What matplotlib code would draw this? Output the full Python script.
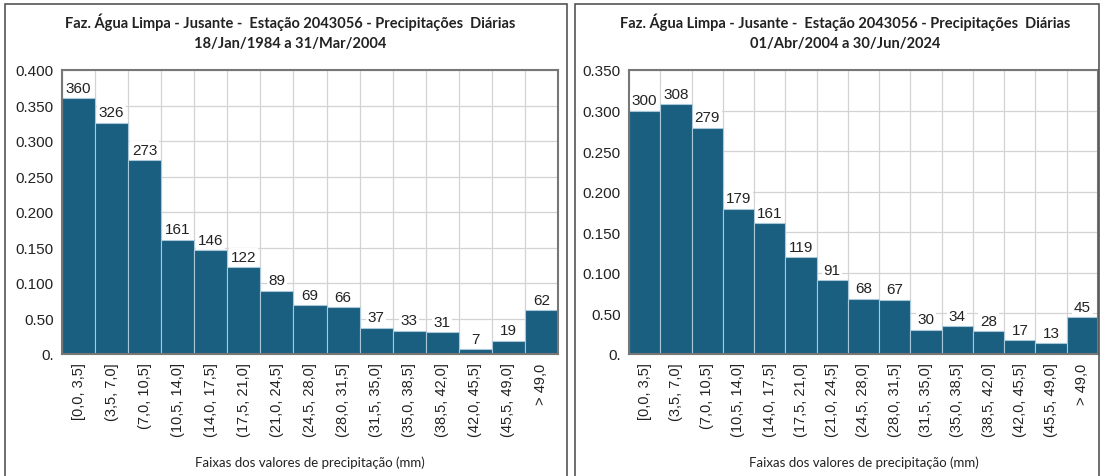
import numpy as np
import matplotlib.pyplot as plt
from matplotlib.patches import Rectangle

faixas = ['[0,0, 3,5]', '(3,5, 7,0]', '(7,0, 10,5]', '(10,5, 14,0]', '(14,0, 17,5]',
          '(17,5, 21,0]', '(21,0, 24,5]', '(24,5, 28,0]', '(28,0, 31,5]', '(31,5, 35,0]',
          '(35,0, 38,5]', '(38,5, 42,0]', '(42,0, 45,5]', '(45,5, 49,0]', '> 49,0']
contagem_1 = [360, 326, 273, 161, 146, 122, 89, 69, 66, 37, 33, 31, 7, 19, 62]
contagem_2 = [300, 308, 279, 179, 161, 119, 91, 68, 67, 30, 34, 28, 17, 13, 45]
periodo_1 = '18/Jan/1984 a 31/Mar/2004'
periodo_2 = '01/Abr/2004 a 30/Jun/2024'
titulo = 'Faz. Água Limpa - Jusante -  Estação 2043056 - Precipitações  Diárias'
yticks_1 = [0, 0.05, 0.1, 0.15, 0.2, 0.25, 0.3, 0.35, 0.4]
ylabels_1 = ['0.', '0.50', '0.100', '0.150', '0.200', '0.250', '0.300', '0.350', '0.400']
yticks_2 = yticks_1[:-1]
ylabels_2 = ylabels_1[:-1]

cor_barra = '#1a5e80'
W, H = 1101, 477
fig = plt.figure(figsize=(W / 100, H / 100), dpi=100)

# molduras dos dois paineis
for x0, x1 in [(5, 567), (575, 1099)]:
    fig.patches.append(Rectangle((x0 / W, -0.02), (x1 - x0) / W, (H - 5) / H + 0.02,
                                 transform=fig.transFigure, fill=False,
                                 edgecolor='#555555', linewidth=1.2))


def painel(ax_rect, counts, periodo, yt, yl, cx):
    ax = fig.add_axes(ax_rect)
    vals = np.array(counts) / 1000
    x = np.arange(len(counts))
    ax.bar(x, vals, width=1.0, color=cor_barra, edgecolor='#a9c8d8', linewidth=0.8, zorder=2)
    ax.set_xlim(-0.5, len(counts) - 0.5)
    ax.set_ylim(0, yt[-1])
    ax.set_yticks(yt)
    ax.set_yticklabels(yl, fontsize=11, family='Liberation Sans', color='#222222')
    ax.set_xticks(x)
    ax.set_xticklabels(faixas, rotation=90, fontsize=10.5, family='Liberation Sans', color='#222222')
    ax.tick_params(length=0, pad=6)
    ax.set_xticks(np.arange(len(counts) + 1) - 0.5, minor=True)
    ax.grid(True, which='minor', axis='x', color='#d3d3d3', linewidth=0.9, zorder=0)
    ax.grid(True, which='major', axis='y', color='#d3d3d3', linewidth=0.9, zorder=0)
    ax.tick_params(which='minor', length=0)
    for s in ax.spines.values():
        s.set_color('#777777')
        s.set_linewidth(1.5)
    for xi, v, c in zip(x, vals, counts):
        ax.text(xi, v + yt[-1] * 0.012, str(c), ha='center', va='bottom', fontsize=11,
                family='Liberation Sans', color='#222222', zorder=3,
                bbox=dict(facecolor='white', edgecolor='none', pad=1.2))
    fig.text(cx / W, 1 - 22 / H, titulo, ha='center', va='center', fontsize=10.5,
             fontweight='bold', family='Lato', color='#222222')
    fig.text(cx / W, 1 - 44 / H, periodo, ha='center', va='center', fontsize=10.5,
             fontweight='bold', family='Lato', color='#222222')
    fig.text((ax_rect[0] + ax_rect[2] / 2), 1 - 463 / H, 'Faixas dos valores de precipitação (mm)',
             ha='center', va='center', fontsize=9.5, family='Lato', color='#222222')
    return ax


painel([62 / W, 1 - 355 / H, (558 - 62) / W, 284 / H], contagem_1, periodo_1,
       yticks_1, ylabels_1, 290)
painel([629 / W, 1 - 355 / H, (1098 - 629) / W, 284 / H], contagem_2, periodo_2,
       yticks_2, ylabels_2, 845)

fig.savefig('out.png', dpi=100)
